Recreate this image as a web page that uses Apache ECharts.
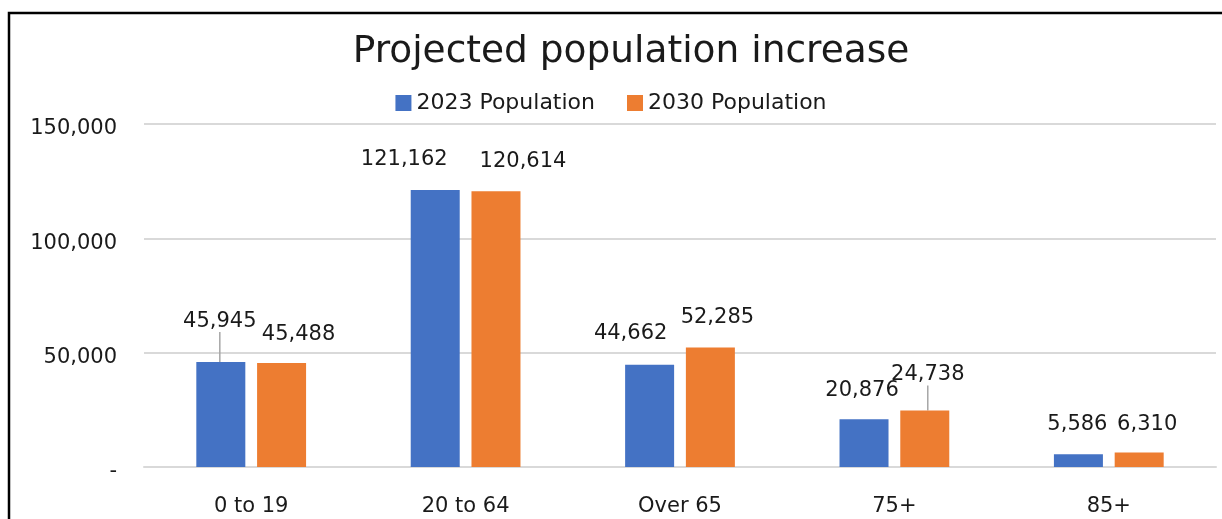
<!DOCTYPE html>
<html>
<head>
<meta charset="utf-8">
<script src="https://cdn.jsdelivr.net/npm/echarts@6/dist/echarts.min.js"></script>
<style>
html,body{margin:0;padding:0;background:#fff;}
#chart{width:1222px;height:519px;}
</style>
</head>
<body>
<div id="chart"></div>
<script>
const categories = ['0 to 19', '20 to 64', 'Over 65', '75+', '85+'];
const pop2023 = [45945, 121162, 44662, 20876, 5586];
const pop2030 = [45488, 120614, 52285, 24738, 6310];
const seriesNames = ['2023 Population', '2030 Population'];

// label nudges (dx, dy) to mimic the reference's label placement
const labelShift = [
  [[-1, -25], [-31, -15], [-19, -16], [-2, -13], [-1, -14]],
  [[17, -13], [27, -14], [7, -14], [3, -20], [8, -13]]
];
const leaderLines = [[true, false, false, false, false], [false, false, false, true, false]];

const FONT = '"DejaVu Sans", sans-serif';
const fmt = v => v.toLocaleString('en-US');

function mkData(arr, si) {
  return arr.map((v, i) => ({ value: v, labelLine: { show: leaderLines[si][i] } }));
}

const chart = echarts.init(document.getElementById('chart'));
chart.setOption({
  animation: false,
  textStyle: { fontFamily: FONT },
  title: {
    text: 'Projected population increase',
    left: 626, top: 28, textAlign: 'center',
    textStyle: { fontFamily: FONT, fontSize: 37.5, fontWeight: 'normal', color: '#1a1a1a' }
  },
  legend: {
    data: seriesNames,
    left: 'center', top: 87, itemWidth: 16, itemHeight: 16, itemGap: 32,
    icon: 'rect',
    textStyle: { fontFamily: FONT, fontSize: 22, color: '#1a1a1a' }
  },
  graphic: [{
    type: 'rect', shape: { x: 9, y: 13, width: 1400, height: 700 },
    style: { fill: 'none', stroke: '#000', lineWidth: 2.5 }, silent: true
  }],
  grid: { left: 144, right: 6, top: 124, bottom: 52 },
  xAxis: {
    type: 'category', data: categories,
    axisLine: { lineStyle: { color: '#d9d9d9', width: 2 } },
    axisTick: { show: false },
    axisLabel: { fontFamily: FONT, fontSize: 21, color: '#1a1a1a', margin: 29 }
  },
  yAxis: {
    type: 'value', min: 0, max: 150000, interval: 50000,
    axisLine: { show: false }, axisTick: { show: false },
    splitLine: { lineStyle: { color: '#d9d9d9', width: 2 } },
    axisLabel: {
      fontFamily: FONT, fontSize: 21, color: '#1a1a1a', margin: 27,
      verticalAlign: 'top', lineHeight: 10,
      formatter: v => v === 0 ? '-' : fmt(v)
    }
  },
  series: [pop2023, pop2030].map((arr, si) => ({
    name: seriesNames[si], type: 'bar',
    data: mkData(arr, si),
    barWidth: 49, barGap: '24%',
    itemStyle: { color: si === 0 ? '#4472c4' : '#ed7d31' },
    label: {
      show: true, position: 'top', distance: 5,
      fontFamily: FONT, fontSize: 21, color: '#1a1a1a',
      formatter: p => fmt(p.value)
    },
    labelLine: { show: false, lineStyle: { color: '#a6a6a6', width: 1.5 } },
    labelLayout: p => ({ dx: labelShift[si][p.dataIndex][0], dy: labelShift[si][p.dataIndex][1] })
  }))
});
</script>
</body>
</html>
